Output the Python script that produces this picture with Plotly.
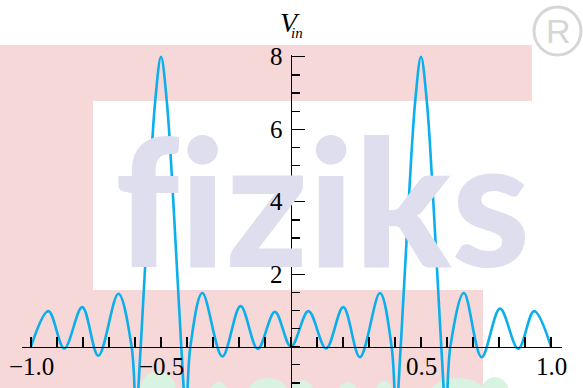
import plotly.graph_objects as go

# ---- data ----
x_vals = [-1.0, -0.933, -0.872, -0.803, -0.741, -0.664, -0.613, -0.596, -0.578, -0.547,
          -0.522, -0.5, -0.478, -0.453, -0.422, -0.404, -0.387, -0.341, -0.264, -0.194,
          -0.128, -0.062, 0.0, 0.067, 0.135, 0.201, 0.265, 0.342, 0.387, 0.404,
          0.422, 0.453, 0.478, 0.5, 0.522, 0.547, 0.578, 0.596, 0.613, 0.665,
          0.733, 0.804, 0.874, 0.935, 1.0]
v_in = [0.0, 0.98, -0.05, 1.09, -0.25, 1.46, 0.0, -1.8, 0.0, 4.05,
        6.8, 8.0, 6.8, 4.05, 0.0, -1.8, 0.0, 1.48, -0.27, 1.12,
        -0.06, 0.96, 0.0, 0.98, -0.05, 1.09, -0.29, 1.48, 0.0, -1.8,
        0.0, 4.05, 6.8, 8.0, 6.8, 4.05, 0.0, -1.8, 0.0, 1.48,
        -0.29, 1.05, -0.06, 0.98, 0.0]

x_tickvals = [-1.0, -0.5, 0.5, 1.0]
x_ticktext = ["\u22121.0", "\u22120.5", "0.5", "1.0"]
y_tickvals = [2, 4, 6, 8]
y_ticktext = ["2", "4", "6", "8"]

X_RANGE = [-1.0346, 1.0423]
Y_RANGE = [-1.141, 8.05]

# ---- layout geometry ----
WIDTH, HEIGHT = 583, 388
ML, MR, MT, MB = 22, 21, 55, 0
PW = WIDTH - ML - MR
PH = HEIGHT - MT - MB


def pxx(px):
    return (px - ML) / PW


def pxy(py):
    return (HEIGHT - MB - py) / PH


x_axis_pos = (0 - Y_RANGE[0]) / (Y_RANGE[1] - Y_RANGE[0])
y_axis_pos = (0 - X_RANGE[0]) / (X_RANGE[1] - X_RANGE[0])

fig = go.Figure()
fig.add_trace(go.Scatter(
    x=x_vals, y=v_in, mode="lines",
    line=dict(color="#0BAFEB", width=2.6, shape="spline", smoothing=1.0),
    hoverinfo="skip", showlegend=False,
))

PINK = "#F6D8D8"
shapes = [
    dict(type="rect", xref="paper", yref="paper", x0=pxx(0), x1=pxx(532), y0=pxy(101), y1=pxy(45),
         fillcolor=PINK, line=dict(width=0), layer="below"),
    dict(type="rect", xref="paper", yref="paper", x0=pxx(0), x1=pxx(93), y0=pxy(388), y1=pxy(101),
         fillcolor=PINK, line=dict(width=0), layer="below"),
    dict(type="rect", xref="paper", yref="paper", x0=pxx(93), x1=pxx(483), y0=pxy(388), y1=pxy(290),
         fillcolor=PINK, line=dict(width=0), layer="below"),
    dict(type="circle", xref="paper", yref="paper", x0=pxx(534), x1=pxx(581), y0=pxy(55), y1=pxy(7),
         fillcolor="rgba(0,0,0,0)", line=dict(color="#D6D6D6", width=3), layer="below"),
]
GREEN = "#D8F3E2"
for cx0, cx1, cy0 in [(140, 176, 371), (208, 230, 382), (246, 290, 378), (288, 316, 380),
                      (336, 360, 382), (374, 394, 381), (428, 488, 378), (480, 510, 377)]:
    shapes.append(dict(type="circle", xref="paper", yref="paper", x0=pxx(cx0), x1=pxx(cx1),
                       y0=pxy(cy0 + 40), y1=pxy(cy0), fillcolor=GREEN, line=dict(width=0), layer="below"))

annotations = [
    dict(text="f\u200ciziks", xref="paper", yref="paper", x=pxx(322), y=pxy(198), showarrow=False,
         font=dict(family="Lato", size=178, color="#DEDEEF", weight=900), xanchor="center", yanchor="middle"),
    dict(text="R", xref="paper", yref="paper", x=pxx(558), y=pxy(31), showarrow=False,
         font=dict(family="Liberation Sans", size=34, color="#D6D6D6"), xanchor="center", yanchor="middle"),
    dict(text="<i>V</i>", xref="paper", yref="paper", x=pxx(290), y=pxy(23), showarrow=False,
         font=dict(family="Liberation Serif", size=28, color="black"), xanchor="center", yanchor="middle"),
    dict(text="<i>in</i>", xref="paper", yref="paper", x=pxx(297), y=pxy(33), showarrow=False,
         font=dict(family="Liberation Serif", size=15, color="black"), xanchor="center", yanchor="middle"),
]
# tick labels placed at the tick values
for tv, tt in zip(x_tickvals, x_ticktext):
    annotations.append(dict(text=tt, xref="x", yref="y", x=tv, y=0, showarrow=False,
                            xanchor="center", yanchor="top", yshift=-4,
                            font=dict(family="Liberation Serif", size=25, color="black")))
for tv, tt in zip(y_tickvals, y_ticktext):
    annotations.append(dict(text=tt, xref="x", yref="y", x=0, y=tv, showarrow=False,
                            xanchor="right", yanchor="middle", xshift=-6,
                            font=dict(family="Liberation Serif", size=25, color="black")))

fig.update_layout(
    width=WIDTH, height=HEIGHT,
    margin=dict(l=ML, r=MR, t=MT, b=MB, pad=0),
    paper_bgcolor="white", plot_bgcolor="rgba(0,0,0,0)",
    shapes=shapes, annotations=annotations,
    showlegend=False,
    xaxis=dict(
        range=X_RANGE, anchor="free", position=x_axis_pos, automargin=False,
        showgrid=False, zeroline=False, showline=True, linecolor="black", linewidth=1.4,
        tickmode="array", tickvals=x_tickvals, showticklabels=False,
        ticks="inside", ticklen=10, tickwidth=1.3, tickcolor="black",
        minor=dict(tickmode="linear", tick0=0, dtick=0.1, ticks="inside", ticklen=10,
                   tickwidth=1.3, tickcolor="black", showgrid=False),
        fixedrange=True,
    ),
    yaxis=dict(
        range=Y_RANGE, anchor="free", position=y_axis_pos, automargin=False,
        showgrid=False, zeroline=False, showline=True, linecolor="black", linewidth=1.4,
        tickmode="array", tickvals=y_tickvals, showticklabels=False,
        ticks="inside", ticklen=13, tickwidth=1.3, tickcolor="black",
        minor=dict(tickmode="linear", tick0=0, dtick=0.5, ticks="inside", ticklen=7.5,
                   tickwidth=1.3, tickcolor="black", showgrid=False),
        fixedrange=True,
    ),
)

fig.write_html(
    "out.html",
    config={"displayModeBar": False, "staticPlot": True},
    post_script="document.body.style.margin='0';document.body.style.overflow='hidden';",
)
